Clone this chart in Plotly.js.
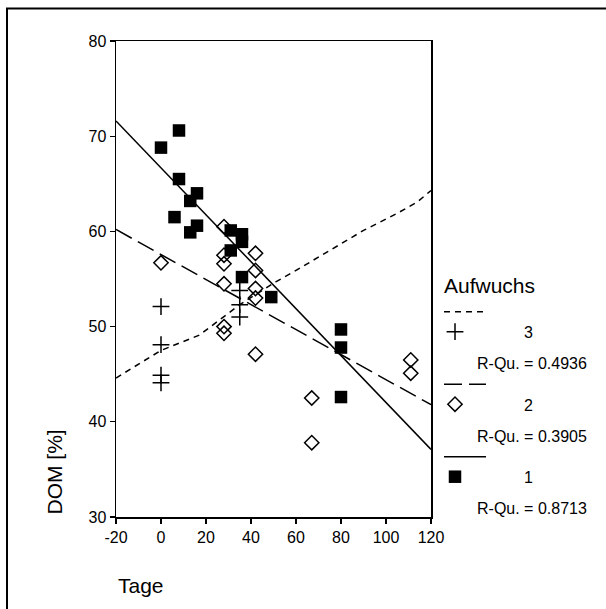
<!DOCTYPE html>
<html>
<head>
<meta charset="utf-8">
<script src="https://cdn.plot.ly/plotly-3.0.1.min.js"></script>
<style>html,body{margin:0;padding:0;background:#fff;}#chart{width:606px;height:609px;}</style>
</head>
<body>
<div id="chart"></div>
<script>
// ---- Data ----
// Aufwuchs 1 (filled squares)
const sq_x = [0, 8, 8, 6, 13, 16, 13, 16, 31, 31, 36, 36, 36, 49, 80, 80, 80];
const sq_y = [68.8, 70.6, 65.5, 61.5, 63.2, 64.0, 59.9, 60.6, 60.1, 58.0, 59.7, 58.9, 55.2, 53.1, 49.7, 47.8, 42.6];
// Aufwuchs 2 (open diamonds)
const dia_x = [0, 28, 28, 28, 28, 28, 28, 42, 42, 42, 42, 42, 67, 67, 111, 111];
const dia_y = [56.7, 60.5, 57.5, 56.6, 54.5, 50.0, 49.3, 57.7, 55.9, 54.0, 53.0, 47.1, 42.5, 37.8, 46.5, 45.1];
// Aufwuchs 3 (crosses)
const crs_x = [0, 0, 0, 0, 35, 35, 35];
const crs_y = [52.1, 48.1, 44.9, 44.1, 53.8, 52.3, 51.0];
// Fit lines
const fit1_x = [-20, 120];
const fit1_y = [71.6, 37.1];
const fit2_x = [-20, 120];
const fit2_y = [60.2, 41.8];
const fit3_x = [-20, 0, 17, 35, 51, 60, 75, 90, 105, 114, 120];
const fit3_y = [44.6, 47.5, 49.1, 52.3, 54.7, 55.9, 58.0, 60.1, 61.9, 63.1, 64.3];
// Axis ticks
const xticks = [-20, 0, 20, 40, 60, 80, 100, 120];
const yticks = [30, 40, 50, 60, 70, 80];
// Legend texts
const legendTitle = 'Aufwuchs';
const legendGroups = ['3', '2', '1'];
const legendR2 = ['R-Qu. = 0.4936', 'R-Qu. = 0.3905', 'R-Qu. = 0.8713'];

// ---- Styles ----
const FONT = 'Arial, "Liberation Sans", sans-serif';
const W = 606, H = 609;
const L = 116, T = 41, B = 517, R = 431; // plot area in px
const paperW = W - L;
const styles = [
  {dash: '6px,5px', symbol: 'cross-thin-open', size: 12},
  {dash: '18px,7px', symbol: 'diamond-open', size: 11},
  {dash: 'solid', symbol: 'square', size: 12.5}
];

const traces = [
  {x: fit3_x, y: fit3_y, mode: 'lines', line: {color: '#000', width: 1.5, dash: styles[0].dash}, xaxis: 'x', yaxis: 'y'},
  {x: fit2_x, y: fit2_y, mode: 'lines', line: {color: '#000', width: 1.5, dash: styles[1].dash}, xaxis: 'x', yaxis: 'y'},
  {x: fit1_x, y: fit1_y, mode: 'lines', line: {color: '#000', width: 1.5, dash: styles[2].dash}, xaxis: 'x', yaxis: 'y'},
  {x: crs_x, y: crs_y, mode: 'markers', marker: {symbol: styles[0].symbol, size: styles[0].size, color: '#000', line: {color: '#000', width: 1.5}}, xaxis: 'x', yaxis: 'y'},
  {x: dia_x, y: dia_y, mode: 'markers', marker: {symbol: styles[1].symbol, size: styles[1].size, color: '#000', line: {color: '#000', width: 1.5}}, xaxis: 'x', yaxis: 'y'},
  {x: sq_x, y: sq_y, mode: 'markers', marker: {symbol: styles[2].symbol, size: styles[2].size, color: '#000', line: {width: 0}}, xaxis: 'x', yaxis: 'y'}
];

// Legend layout (in pixel units on a helper axis pair)
const legLineY0 = 311.7, legStep = 72.5;
const legMarkerDy = 20, legNumX = 522, legR2X = 475, legR2Dy = 52;
const legLineX0 = 444, legLineX1 = 486, legMarkerX = 455;

const shapes = [];
const annotations = [];
legendGroups.forEach((g, i) => {
  const ly = legLineY0 + i * legStep;
  shapes.push({type: 'line', xref: 'x2', yref: 'y2', x0: legLineX0, x1: legLineX1, y0: ly, y1: ly,
    line: {color: '#000', width: 1.5, dash: styles[i].dash}});
  traces.push({x: [legMarkerX], y: [ly + legMarkerDy], mode: 'markers', xaxis: 'x2', yaxis: 'y2',
    marker: {symbol: styles[i].symbol, size: styles[i].size, color: '#000', line: {color: '#000', width: styles[i].symbol === 'square' ? 0 : 1.5}}});
  annotations.push({xref: 'x2', yref: 'y2', x: legNumX, y: ly + legMarkerDy + 1, text: g, showarrow: false,
    xanchor: 'left', yanchor: 'middle', font: {family: FONT, size: 16, color: '#000'}});
  annotations.push({xref: 'x2', yref: 'y2', x: legR2X, y: ly + legR2Dy, text: legendR2[i], showarrow: false,
    xanchor: 'left', yanchor: 'middle', font: {family: FONT, size: 16, color: '#000'}});
});
annotations.push({xref: 'x2', yref: 'y2', x: 442, y: 285, text: legendTitle, showarrow: false,
  xanchor: 'left', yanchor: 'middle', font: {family: FONT, size: 21, color: '#000'}});

// Axis titles
annotations.push({xref: 'paper', yref: 'paper', x: 0, y: (B - 585) / (B - T), text: 'Tage', showarrow: false,
  xanchor: 'left', yanchor: 'middle', font: {family: FONT, size: 21, color: '#000'}});
annotations.push({xref: 'paper', yref: 'paper', x: (54 - L) / paperW, y: 0, text: 'DOM [%]', showarrow: false,
  textangle: -90, xanchor: 'center', yanchor: 'bottom', font: {family: FONT, size: 21, color: '#000'}});

// Outer frame (left and top edges visible)
shapes.push({type: 'rect', xref: 'paper', yref: 'paper',
  x0: (7 - L) / paperW, x1: (640 - L) / paperW, y0: (B - 640) / (B - T), y1: (B - 8.5) / (B - T),
  line: {color: '#000', width: 2}, fillcolor: 'rgba(0,0,0,0)'});

const axisCommon = {
  showgrid: false, zeroline: false, showline: true, linecolor: '#000', linewidth: 1.5, mirror: true,
  ticks: 'outside', ticklen: 5, tickwidth: 1.2, tickcolor: '#000',
  tickfont: {family: FONT, size: 16, color: '#000'}, fixedrange: true
};

const layout = {
  width: W, height: H,
  margin: {l: L, r: 0, t: T, b: H - B, pad: 0},
  paper_bgcolor: '#fff', plot_bgcolor: '#fff',
  showlegend: false,
  font: {family: FONT, color: '#000'},
  xaxis: Object.assign({}, axisCommon, {domain: [0, (R - L) / paperW], range: [-20, 120], tickvals: xticks, ticktext: xticks.map(String), anchor: 'y'}),
  yaxis: Object.assign({}, axisCommon, {domain: [0, 1], range: [30, 80], tickvals: yticks, ticktext: yticks.map(String), anchor: 'x'}),
  xaxis2: {domain: [(R - L) / paperW, 1], range: [R, W], visible: false, fixedrange: true, anchor: 'y2'},
  yaxis2: {domain: [0, 1], range: [B, T], visible: false, fixedrange: true, anchor: 'x2'},
  shapes: shapes,
  annotations: annotations
};

traces.forEach(t => { t.hoverinfo = 'skip'; t.cliponaxis = false; });
traces[0].cliponaxis = true; traces[1].cliponaxis = true; traces[2].cliponaxis = true;

Plotly.newPlot('chart', traces, layout, {displayModeBar: false, staticPlot: true});
</script>
</body>
</html>
